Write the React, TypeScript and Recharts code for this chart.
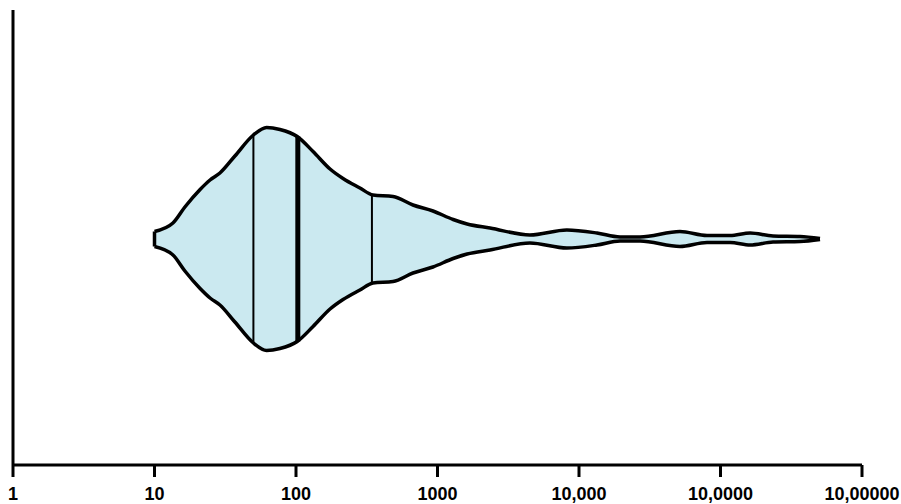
import { ComposedChart, Area, XAxis, YAxis, ReferenceLine } from 'recharts';

// violin outline: x position (log scale) and half-width of the density at that point
const positions = [10, 13.5, 16.4, 21, 24.7, 29, 37, 50, 62, 77, 102, 132, 174, 215, 283, 350, 485, 671, 929, 1290, 1620, 2350, 4500, 8200, 13400, 19500, 27000, 51700, 80300, 117000, 162000, 235000, 365000, 505000];
const halfWidths = [7.5, 16, 32, 49.5, 59, 66, 83, 104, 111.5, 109.5, 102.5, 87.5, 70, 60.5, 51, 44, 42.5, 34, 28, 19.5, 15, 11, 4, 9, 6, 2, 2, 7.5, 3.5, 3.5, 6, 3, 2.5, 0.5];

// quartile lines (q1, median, q3) and the violin half-width at each
const quartiles = [50, 103, 344];
const quartileHalf = [104, 102.5, 44.5];
const quartileWidths = [2, 5, 2];

const ticks = [1, 10, 100, 1000, 10000, 100000, 1000000];
const tickLabels = ['1', '10', '100', '1000', '10,000', '10,0000', '10,00000'];

const data = positions.map((p, i) => ({ x: p, band: [-halfWidths[i], halfWidths[i]] }));

export default function App() {
  return (
    <div style={{ position: 'absolute', left: 0, top: 0, background: '#fff' }}>
      <ComposedChart width={901} height={504} data={data} margin={{ top: 10, right: 39, left: 12, bottom: 0 }}>
        <XAxis
          dataKey="x"
          type="number"
          scale="log"
          domain={[1, 1000000]}
          ticks={ticks}
          allowDataOverflow
          height={39}
          tickSize={12}
          tickMargin={10}
          axisLine={{ stroke: '#000', strokeWidth: 3 }}
          tickLine={{ stroke: '#000', strokeWidth: 3 }}
          tickFormatter={(v: number) => tickLabels[ticks.indexOf(v)] ?? ''}
          tick={{ fill: '#000', fontSize: 18, fontWeight: 'bold', fontFamily: 'Liberation Sans, Arial, sans-serif' }}
        />
        <YAxis
          type="number"
          domain={[-226, 229]}
          width={1}
          tick={false}
          tickLine={false}
          axisLine={{ stroke: '#000', strokeWidth: 3 }}
        />
        <Area
          dataKey="band"
          type="monotone"
          fill="#cbe9f0"
          fillOpacity={1}
          stroke="#000"
          strokeWidth={3.5}
          strokeLinejoin="round"
          isAnimationActive={false}
          dot={false}
          activeDot={false}
        />
        <ReferenceLine
          segment={[{ x: positions[0], y: -halfWidths[0] }, { x: positions[0], y: halfWidths[0] }]}
          stroke="#000"
          strokeWidth={3.5}
        />
        {quartiles.map((q, i) => (
          <ReferenceLine
            key={q}
            segment={[{ x: q, y: -quartileHalf[i] }, { x: q, y: quartileHalf[i] }]}
            stroke="#000"
            strokeWidth={quartileWidths[i]}
          />
        ))}
      </ComposedChart>
    </div>
  );
}
